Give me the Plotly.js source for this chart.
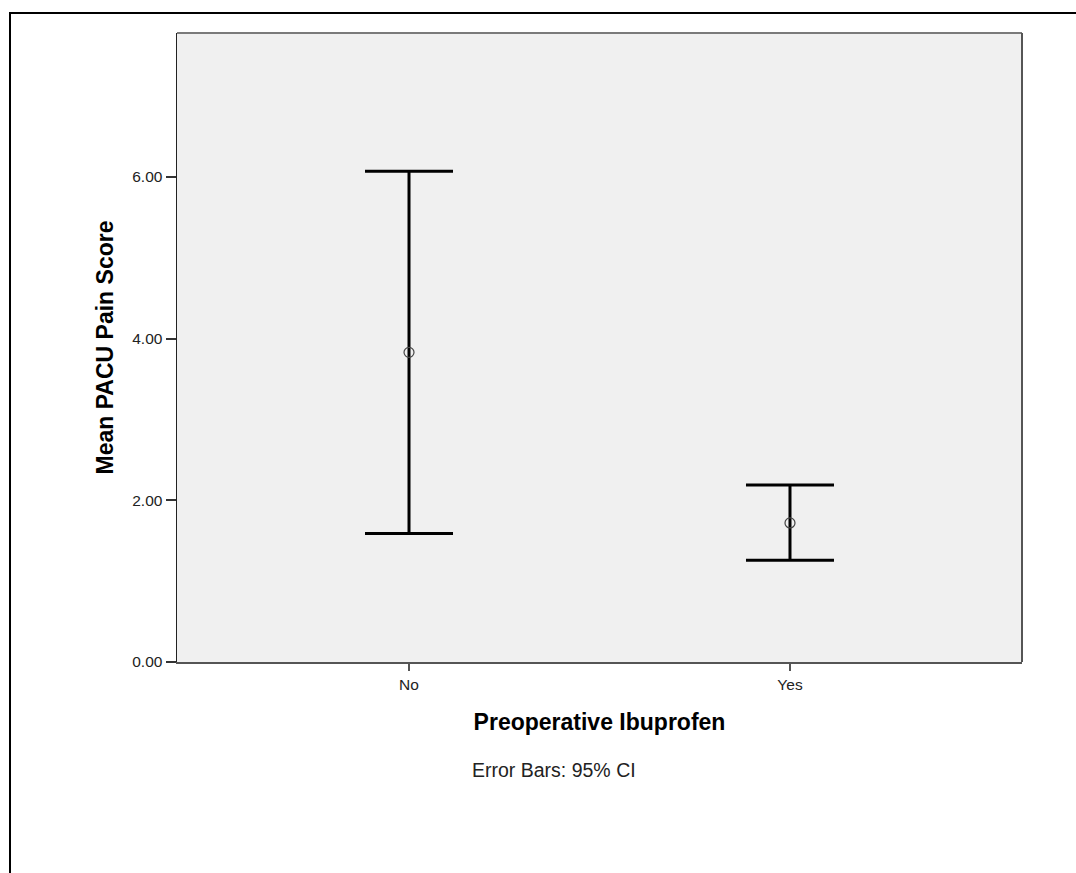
<!DOCTYPE html>
<html>
<head>
<meta charset="utf-8">
<script src="https://cdn.plot.ly/plotly-3.0.1.min.js"></script>
<style>
html,body{margin:0;padding:0;background:#fff;}
#wrap{position:relative;width:1076px;height:873px;}
#chart{position:absolute;left:0;top:0;width:1076px;height:873px;}
#frame{position:absolute;left:9px;top:12px;width:1067px;height:861px;border-top:2px solid #000;border-left:2px solid #000;pointer-events:none;box-sizing:border-box;}
</style>
</head>
<body>
<div id="wrap"><div id="chart"></div><div id="frame"></div></div>
<script>
const categories = ["No", "Yes"];
const meanScore = [3.83, 1.72];
const upperCI = [6.07, 2.19];
const lowerCI = [1.59, 1.26];
const yTicks = [0, 2, 4, 6];
const yTickLabels = ["0.00", "2.00", "4.00", "6.00"];

const errPlus = upperCI.map((u, i) => u - meanScore[i]);
const errMinus = lowerCI.map((l, i) => meanScore[i] - l);

const trace = {
  type: "scatter",
  mode: "markers",
  x: categories,
  y: meanScore,
  marker: {symbol: "circle-open", size: 10, color: "#444", line: {width: 1.2, color: "#444"}},
  error_y: {type: "data", symmetric: false, array: errPlus, arrayminus: errMinus,
            color: "#000", thickness: 3, width: 44},
  hoverinfo: "skip",
  showlegend: false
};

const font = "'Liberation Sans', Arial, sans-serif";
const layout = {
  width: 1076, height: 873,
  margin: {l: 177, r: 54, t: 33, b: 211},
  paper_bgcolor: "#fff",
  plot_bgcolor: "#f0f0f0",
  font: {family: font, color: "#000"},
  xaxis: {
    type: "category", range: [-0.609, 1.609],
    showgrid: false, zeroline: false,
    showline: true, linecolor: "#555", linewidth: 2,
    ticks: "outside", ticklen: 7, tickwidth: 2, tickcolor: "#555",
    tickfont: {size: 15.5, family: font, color: "#222"},
    title: {text: "<b>Preoperative Ibuprofen</b>", font: {size: 23, family: font, color: "#000"}, standoff: 22}
  },
  yaxis: {
    range: [0, 7.78],
    tickvals: yTicks, ticktext: yTickLabels,
    showgrid: false, zeroline: false,
    showline: true, linecolor: "#222", linewidth: 1.5,
    ticks: "outside", ticklen: 10, tickwidth: 2, tickcolor: "#333",
    tickfont: {size: 15.5, family: font, color: "#222"},
    title: {text: "<b>Mean PACU Pain Score</b>", font: {size: 23, family: font, color: "#000"}, standoff: 12}
  },
  shapes: [
    {type: "line", xref: "paper", yref: "paper", x0: 0, x1: 1, y0: 1, y1: 1, line: {color: "#7a7a7a", width: 2}},
    {type: "line", xref: "paper", yref: "paper", x0: 1, x1: 1, y0: 0, y1: 1, line: {color: "#555", width: 2}}
  ],
  annotations: [
    {xref: "paper", yref: "paper", x: (470 - 177) / 845, y: -(770 - 662) / 629,
     xanchor: "left", yanchor: "middle", showarrow: false,
     text: "Error Bars: 95% CI", font: {size: 19.5, family: font, color: "#222"}}
  ]
};

Plotly.newPlot("chart", [trace], layout, {displayModeBar: false, staticPlot: true});
</script>
</body>
</html>
